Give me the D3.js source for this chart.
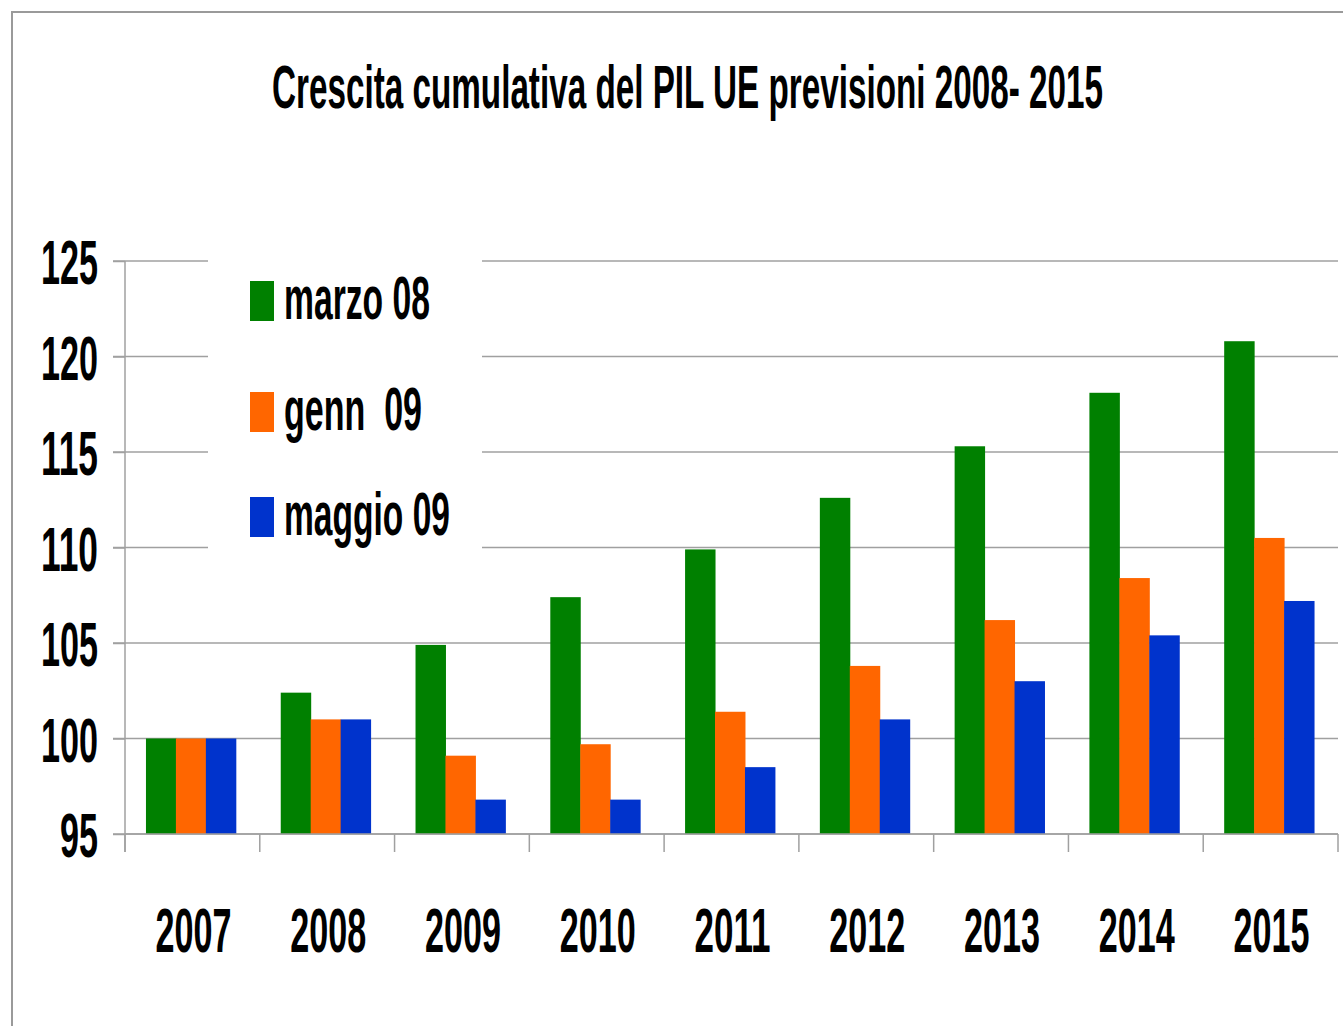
<!DOCTYPE html>
<html>
<head>
<meta charset="utf-8">
<script src="https://cdn.jsdelivr.net/npm/d3@7"></script>
<style>
  html, body { margin: 0; padding: 0; background: #fff; }
  svg text { font-family: "Liberation Sans", Arial, sans-serif; font-weight: bold; fill: #000; white-space: pre; }
</style>
</head>
<body>
<svg id="chart" width="1343" height="1026"></svg>
<script>
const years = ["2007", "2008", "2009", "2010", "2011", "2012", "2013", "2014", "2015"];
const seriesNames = ["marzo 08", "genn  09", "maggio 09"];
const marzo08 = [100, 102.4, 104.9, 107.4, 109.9, 112.6, 115.3, 118.1, 120.8];
const genn09 = [100, 101.0, 99.1, 99.7, 101.4, 103.8, 106.2, 108.4, 110.5];
const maggio09 = [100, 101.0, 96.8, 96.8, 98.5, 101.0, 103.0, 105.4, 107.2];
const yTicks = [95, 100, 105, 110, 115, 120, 125];
const colors = ["#008000", "#ff6600", "#0033cc"];

const seriesValues = [marzo08, genn09, maggio09];
const data = years.map((yr, i) => ({ year: yr, values: seriesValues.map(s => s[i]) }));

const svg = d3.select("#chart");
const plotLeft = 125, plotRight = 1338, plotTop = 261, plotBottom = 834;

// frame of the slide
svg.append("path")
  .attr("d", "M12,1026 V12 H1343")
  .attr("fill", "none")
  .attr("stroke", "#9a9a9a")
  .attr("stroke-width", 2);

const x0 = d3.scaleBand().domain(years).range([plotLeft, plotRight]).padding(0);
const x1 = d3.scaleBand().domain(d3.range(seriesNames.length))
  .range([-1.5, x0.bandwidth() - 1.5]).paddingInner(0).paddingOuter(0.75);
const y = d3.scaleLinear().domain([95, 125]).range([plotBottom, plotTop]);

// gridlines
svg.append("g")
  .selectAll("line")
  .data(yTicks)
  .join("line")
  .attr("x1", plotLeft - 12)
  .attr("x2", plotRight)
  .attr("y1", d => y(d))
  .attr("y2", d => y(d))
  .attr("stroke", "#a0a0a0")
  .attr("stroke-width", 1.5);

// bars
const groups = svg.append("g")
  .selectAll("g")
  .data(data)
  .join("g")
  .attr("transform", d => `translate(${x0(d.year)},0)`);

groups.selectAll("rect")
  .data(d => d.values.map((v, i) => ({ v, i })))
  .join("rect")
  .attr("x", d => x1(d.i))
  .attr("width", x1.bandwidth() + 0.5)
  .attr("y", d => y(d.v))
  .attr("height", d => y(95) - y(d.v))
  .attr("fill", d => colors[d.i]);

// y axis
const yAxis = svg.append("g")
  .attr("transform", `translate(${plotLeft},0)`)
  .call(d3.axisLeft(y).tickValues(yTicks).tickSize(12).tickPadding(15));
yAxis.select(".domain").attr("stroke", "#a0a0a0").attr("stroke-width", 1.5)
  .attr("d", `M0,${plotTop}V${plotBottom + 18}`);
yAxis.selectAll(".tick line").attr("stroke", "#a0a0a0").attr("stroke-width", 1.5);
yAxis.attr("font-family", null).attr("font-size", null);
yAxis.selectAll(".tick text")
  .attr("font-size", 63)
  .attr("dy", "0.36em")
  .attr("textLength", d => String(d).length * 19)
  .attr("lengthAdjust", "spacingAndGlyphs");

// x axis
const xAxis = svg.append("g");
xAxis.append("line")
  .attr("x1", plotLeft).attr("x2", plotRight)
  .attr("y1", plotBottom).attr("y2", plotBottom)
  .attr("stroke", "#a0a0a0").attr("stroke-width", 1.5);
xAxis.selectAll(".xtick")
  .data(years.concat(["end"]))
  .join("line")
  .attr("class", "xtick")
  .attr("x1", d => d === "end" ? plotRight : x0(d))
  .attr("x2", d => d === "end" ? plotRight : x0(d))
  .attr("y1", plotBottom).attr("y2", plotBottom + 18)
  .attr("stroke", "#a0a0a0").attr("stroke-width", 1.5);
xAxis.selectAll(".xlabel")
  .data(years)
  .join("text")
  .attr("class", "xlabel")
  .attr("x", d => x0(d) + x0.bandwidth() / 2 + 1)
  .attr("y", 952)
  .attr("text-anchor", "middle")
  .attr("font-size", 63)
  .attr("textLength", 76)
  .attr("lengthAdjust", "spacingAndGlyphs")
  .text(d => d);

// legend
const legendWidths = [146, 138, 166];
const legendRows = [301, 412, 517];
const legend = svg.append("g");
legend.append("rect")
  .attr("x", 208).attr("y", 250)
  .attr("width", 274).attr("height", 310)
  .attr("fill", "#fff");
const item = legend.selectAll("g.item")
  .data(seriesNames)
  .join("g")
  .attr("class", "item")
  .attr("transform", (d, i) => `translate(250,${legendRows[i]})`);
item.append("rect")
  .attr("x", 0).attr("y", -20)
  .attr("width", 24).attr("height", 40)
  .attr("fill", (d, i) => colors[i]);
item.append("text")
  .attr("x", 34).attr("y", 18)
  .attr("font-size", 61)
  .attr("textLength", (d, i) => legendWidths[i])
  .attr("lengthAdjust", "spacingAndGlyphs")
  .text(d => d);

// title
svg.append("text")
  .attr("x", 272)
  .attr("y", 108)
  .attr("font-size", 61)
  .attr("textLength", 831)
  .attr("lengthAdjust", "spacingAndGlyphs")
  .text("Crescita cumulativa del PIL UE previsioni 2008- 2015");
</script>
</body>
</html>
